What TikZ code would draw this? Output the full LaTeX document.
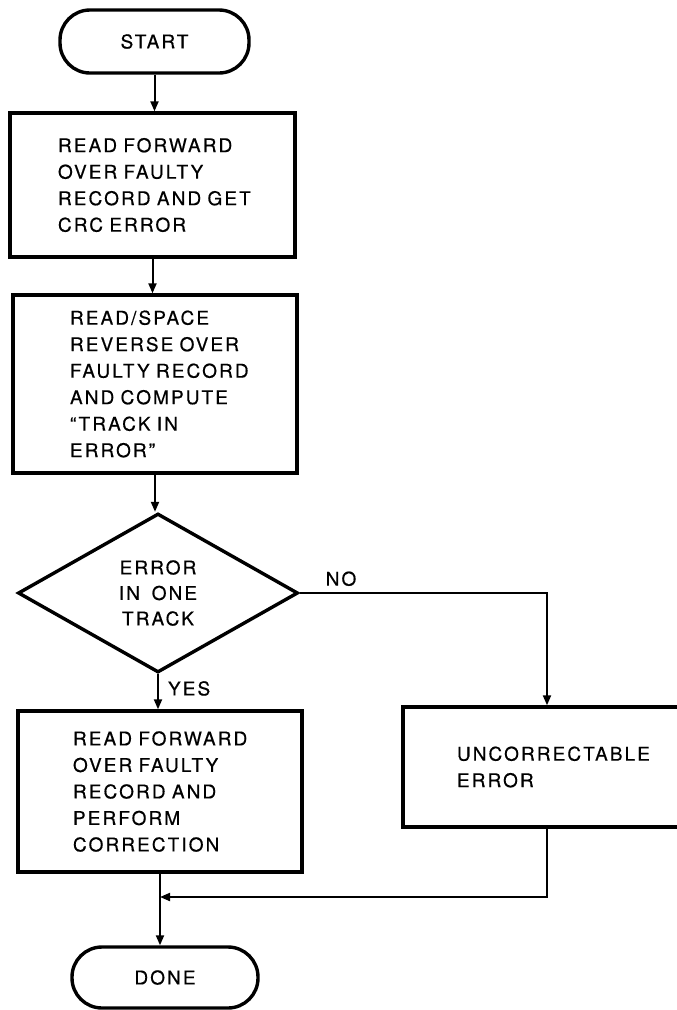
\documentclass[tikz,border=0pt]{standalone}
\usepackage{fontspec}
\setmainfont{TeX Gyre Heros}[LetterSpace=11, WordSpace=1.6, FakeBold=0.5]
\usetikzlibrary{shapes.geometric,arrows.meta}
\begin{document}
\begin{tikzpicture}[x=1pt,y=-1pt,
  font=\fontsize{19}{26.5}\selectfont,
  box/.style={draw, line width=3.4pt, rectangle, align=left},
  term/.style={draw, line width=3.4pt, rounded corners=30pt, align=center},
  conn/.style={line width=2pt, -{Triangle[length=10pt,width=8pt]}},
  lbl/.style={inner sep=0pt}]
\useasboundingbox (0,0) rectangle (677,1010);
\fill[white] (0,0) rectangle (677,1010);

\node[term, minimum width=189pt, minimum height=63pt] (start) at (154.5,41.5) {START};

\node[box, minimum width=285pt, minimum height=144pt, text width=189pt, inner xsep=48pt] (b1) at (152.5,185)
 {\mbox{READ FORWARD}\\\mbox{OVER FAULTY}\\\mbox{RECORD AND GET}\\\mbox{CRC ERROR}};

\node[box, minimum width=284pt, minimum height=178pt, text width=170pt, inner xsep=57pt] (b2) at (155,384)
 {\mbox{READ/SPACE}\\\mbox{REVERSE OVER}\\\mbox{FAULTY RECORD}\\\mbox{AND COMPUTE}\\\mbox{“TRACK IN}\\\mbox{ERROR”}};

\node[diamond, draw, line width=3.4pt, minimum width=280pt, minimum height=159pt, inner sep=0pt, align=center,
      font=\fontsize{19}{25.5}\selectfont] (dec) at (158,593) {ERROR\\IN ONE\\TRACK};

\node[box, minimum width=284pt, minimum height=161pt, text width=174pt, inner xsep=55pt] (b3) at (160,791.5)
 {\mbox{READ FORWARD}\\\mbox{OVER FAULTY}\\\mbox{RECORD AND}\\\mbox{PERFORM}\\\mbox{CORRECTION}};

\node[box, minimum width=288pt, minimum height=120pt, text width=180pt, inner xsep=54pt] (unc) at (547,767)
 {\mbox{UNCORRECTABLE}\\\mbox{ERROR}};

\node[term, minimum width=186pt, minimum height=61pt] (done) at (165,977.5) {DONE};

\coordinate (j) at (b3.south |- 0,897);

\draw[conn] (start.south) -- (start.south |- b1.north);
\draw[conn] (b1.south) -- (b1.south |- b2.north);
\draw[conn] (b2.south) -- (b2.south |- dec.north);
\draw[conn] (dec.south) -- node[lbl, pos=0, anchor=north west, xshift=9pt, yshift=-6pt] (yes) {YES} (dec.south |- b3.north);
\draw[conn] (dec.east) -- node[lbl, pos=0, anchor=south west, xshift=25pt, yshift=6pt] (no) {NO} (dec.east -| unc.north) -- (unc.north);
\draw[conn] (b3.south) -- (b3.south |- done.north);
\draw[conn] (unc.south) |- (j);
\end{tikzpicture}
\end{document}
